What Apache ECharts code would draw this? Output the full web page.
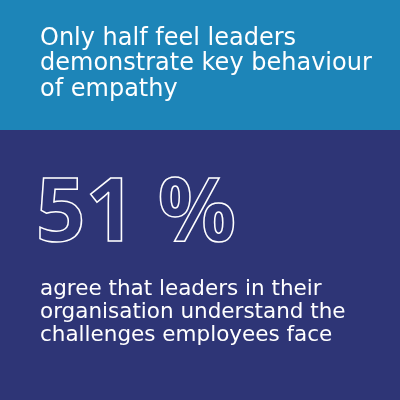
<!DOCTYPE html>
<html><head><meta charset="utf-8">
<script src="https://cdn.jsdelivr.net/npm/echarts@6/dist/echarts.min.js"></script>
<style>html,body{margin:0;padding:0;background:#2e3576}#c{width:400px;height:400px}</style>
</head><body><div id="c"></div>
<script>
const headlineLines = ["Only half feel leaders", "demonstrate key behaviour", "of empathy"];
const statValue = 51;
const statUnit = "%";
const bodyLines = ["agree that leaders in their", "organisation understand the", "challenges employees face"];

const chart = echarts.init(document.getElementById('c'), null, {renderer: 'canvas'});
const font = '"DejaVu Sans", "Noto Sans", sans-serif';
const numFont = '700 87px "Open Sans", "Noto Sans", sans-serif';
chart.setOption({
  animation: false,
  backgroundColor: '#2e3576',
  graphic: [
    {type: 'rect', shape: {x: 0, y: 0, width: 400, height: 130}, style: {fill: '#1d85b8'}},
    {type: 'text', left: 40, top: 26, style: {
      text: headlineLines.join('\n'), fill: '#ffffff', font: '400 24px ' + font, lineHeight: 25.5
    }},
    {type: 'text', left: 35, top: 172, style: {
      text: String(statValue), fill: 'none', stroke: '#ffffff', lineWidth: 1.5, font: numFont
    }},
    {type: 'text', left: 157, top: 172, style: {
      text: statUnit, fill: 'none', stroke: '#ffffff', lineWidth: 1.5, font: numFont
    }},
    {type: 'text', left: 40, top: 278, style: {
      text: bodyLines.join('\n'), fill: '#ffffff', font: '400 21.5px ' + font, lineHeight: 23
    }}
  ]
});
</script></body></html>
